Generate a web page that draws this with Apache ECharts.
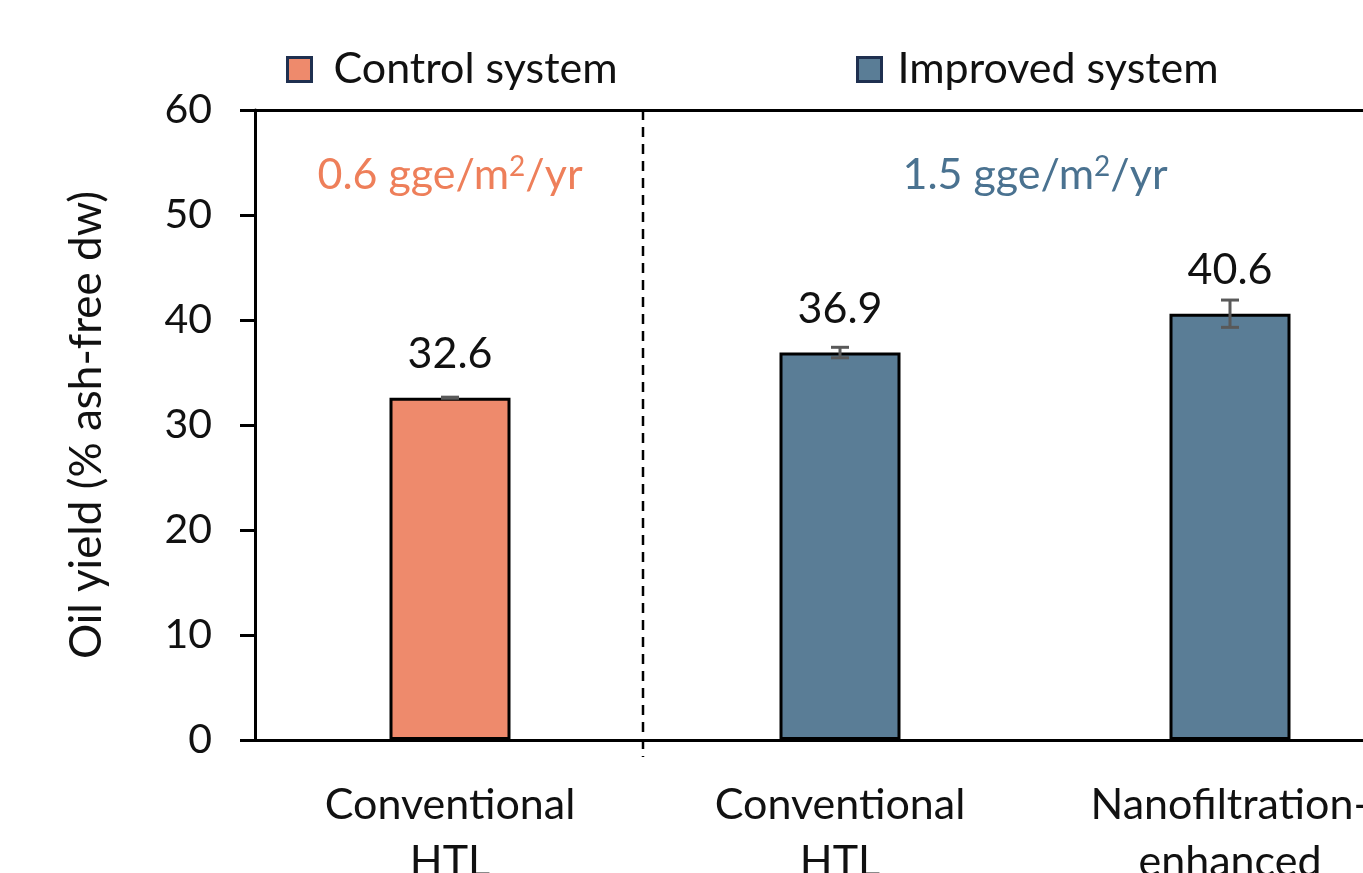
<!DOCTYPE html>
<html>
<head>
<meta charset="utf-8">
<script src="https://cdn.jsdelivr.net/npm/echarts@6/dist/echarts.min.js"></script>
<style>
html,body{margin:0;padding:0;background:#fff;}
#c{width:1363px;height:873px;}
</style>
</head>
<body>
<div id="c"></div>
<script>
const categories = ['Conventional\nHTL', 'Conventional\nHTL', 'Nanofiltration-\nenhanced'];
const controlValues = [32.6, '-', '-'];
const improvedValues = ['-', 36.9, 40.6];
const errors = [0.05, 0.5, 1.3];
const yTicks = [0, 10, 20, 30, 40, 50, 60];
const seriesNames = ['Control system', 'Improved system'];
const annotations = ['0.6 gge/m{sup|2}/yr', '1.5 gge/m{sup|2}/yr'];

const FONT = 'Lato';
const ORANGE = '#EE8A6C';
const BLUE = '#5A7D96';

const chart = echarts.init(document.getElementById('c'));

const errData = categories.map((c, i) => {
  const v = controlValues[i] !== '-' ? controlValues[i] : improvedValues[i];
  return [i, v - errors[i], v + errors[i]];
});

const option = {
  animation: false,
  textStyle: {fontFamily: FONT},
  legend: [
    {
      data: [seriesNames[0]], left: 281, top: 43, itemWidth: 24, itemHeight: 24,
      icon: 'rect',
      itemStyle: {borderColor: '#1F3050', borderWidth: 3},
      textStyle: {fontFamily: FONT, fontSize: 43, color: '#111', padding: [0, 0, 0, 17]}
    },
    {
      data: [seriesNames[1]], left: 851, top: 43, itemWidth: 24, itemHeight: 24,
      icon: 'rect',
      itemStyle: {borderColor: '#1F3050', borderWidth: 3},
      textStyle: {fontFamily: FONT, fontSize: 43, color: '#111', padding: [0, 0, 0, 11]}
    }
  ],
  grid: {left: 255, top: 110, width: 1170, height: 630, containLabel: false, outerBoundsMode: 'none'},
  xAxis: [
    {
      type: 'category', data: categories, position: 'bottom',
      axisLine: {lineStyle: {color: '#000', width: 3}},
      axisTick: {alignWithLabel: true, length: 14, lineStyle: {color: '#000', width: 3}},
      axisLabel: {fontFamily: FONT, fontSize: 43, color: '#111', margin: 37, lineHeight: 57}
    },
    {
      type: 'category', data: categories, position: 'top',
      axisLine: {lineStyle: {color: '#000', width: 3}},
      axisTick: {show: false}, axisLabel: {show: false}
    }
  ],
  yAxis: {
    type: 'value', min: yTicks[0], max: yTicks[yTicks.length - 1], interval: 10,
    name: 'Oil yield (% ash-free dw)', nameLocation: 'middle', nameGap: 146,
    nameTextStyle: {fontFamily: FONT, fontSize: 44, color: '#111'},
    axisLine: {show: true, lineStyle: {color: '#000', width: 3}},
    axisTick: {show: true, inside: false, length: 15, lineStyle: {color: '#000', width: 3}},
    axisLabel: {fontFamily: FONT, fontSize: 41, color: '#111', margin: 43},
    splitLine: {show: false}
  },
  series: [
    {
      name: seriesNames[0], type: 'bar', data: controlValues, barWidth: 121, barGap: '-100%',
      itemStyle: {color: ORANGE, borderColor: '#000', borderWidth: 3},
      label: {show: true, position: 'top', distance: 22, fontFamily: FONT, fontSize: 43, color: '#111'}
    },
    {
      name: seriesNames[1], type: 'bar', data: improvedValues, barWidth: 121, barGap: '-100%',
      itemStyle: {color: BLUE, borderColor: '#000', borderWidth: 3},
      label: {show: true, position: 'top', distance: 22, fontFamily: FONT, fontSize: 43, color: '#111'}
    },
    {
      type: 'custom', name: 'err', data: errData, z: 10,
      renderItem: function (params, api) {
        const x = api.value(0);
        const lo = api.coord([x, api.value(1)]);
        const hi = api.coord([x, api.value(2)]);
        const hw = 9;
        const st = {stroke: '#595959', lineWidth: 3};
        return {
          type: 'group', children: [
            {type: 'line', shape: {x1: lo[0], y1: lo[1], x2: hi[0], y2: hi[1]}, style: st},
            {type: 'line', shape: {x1: lo[0] - hw, y1: lo[1], x2: lo[0] + hw, y2: lo[1]}, style: st},
            {type: 'line', shape: {x1: hi[0] - hw, y1: hi[1], x2: hi[0] + hw, y2: hi[1]}, style: st}
          ]
        };
      }
    }
  ]
};
chart.setOption(option);

// annotations & separator
const p0 = chart.convertToPixel({xAxisIndex: 0, yAxisIndex: 0}, [0, 53.8]);
const p1 = chart.convertToPixel({xAxisIndex: 0, yAxisIndex: 0}, [1, 53.8]);
const p2 = chart.convertToPixel({xAxisIndex: 0, yAxisIndex: 0}, [2, 53.8]);
const yTopPx = chart.convertToPixel({yAxisIndex: 0}, 60);
const yBotPx = chart.convertToPixel({yAxisIndex: 0}, 0);
const sepX = (p0[0] + p1[0]) / 2 - 2;
chart.setOption({
  graphic: [
    {
      type: 'line', shape: {x1: sepX, y1: yTopPx, x2: sepX, y2: yBotPx + 17},
      style: {stroke: '#000', lineWidth: 2.5, lineDash: [10, 7]}, z: 5
    },
    {
      type: 'text', x: p0[0], y: p0[1],
      style: {
        text: annotations[0], fill: '#EE7F5A', font: '43px ' + FONT,
        align: 'center', verticalAlign: 'middle',
        rich: {sup: {fontSize: 28, fill: '#EE7F5A', fontFamily: FONT, verticalAlign: 'top', padding: [0, 0, 16, 0]}}
      }
    },
    {
      type: 'text', x: (p1[0] + p2[0]) / 2, y: p1[1],
      style: {
        text: annotations[1], fill: '#4A7290', font: '43px ' + FONT,
        align: 'center', verticalAlign: 'middle',
        rich: {sup: {fontSize: 28, fill: '#4A7290', fontFamily: FONT, verticalAlign: 'top', padding: [0, 0, 16, 0]}}
      }
    }
  ]
});
</script>
</body>
</html>
